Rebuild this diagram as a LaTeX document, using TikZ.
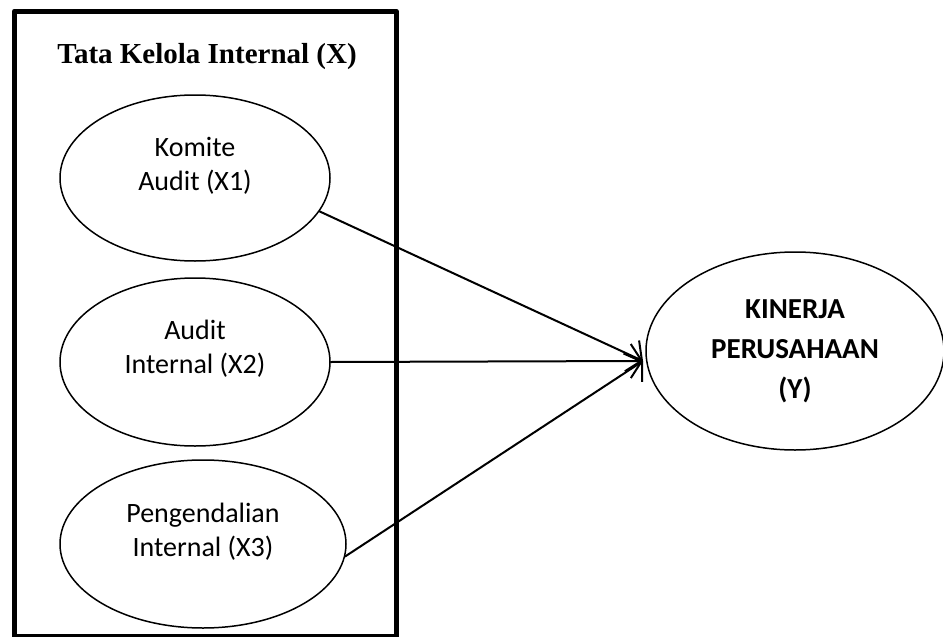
\documentclass[tikz,border=0pt]{standalone}
\usepackage{fontspec}
\setmainfont{Carlito}
\newfontfamily\judulfont{Liberation Serif}
\usetikzlibrary{shapes.geometric,arrows.meta}

\tikzset{
  oval/.style={ellipse, draw, line width=1.5pt, align=center, inner sep=0pt,
    font=\fontsize{28}{34}\selectfont},
  panah/.style={line width=2pt, -{Straight Barb[length=11pt, width=34pt, line width=2pt]}}
}

\begin{document}
\begin{tikzpicture}[x=1pt, y=-1pt, line join=round, line cap=round]
			\useasboundingbox (0,0) rectangle (943,637);
			% Kotak variabel X
			\node[draw, line width=5pt, line cap=butt, minimum width=381.5pt, minimum height=625.5pt,
			  inner sep=0pt, anchor=north west] (kotakX) at (12,8.5) {};
			\node[font=\judulfont\bfseries\fontsize{29}{35}\selectfont, anchor=base] (judul) at (207,63) {Tata Kelola Internal (X)};
			
			% Indikator X1, X2, X3
			\node[oval, minimum width=270pt, minimum height=166pt] (komite) at (195,178) {Komite\\Audit (X1)\\[-16pt]\strut};
			\node[oval, minimum width=270pt, minimum height=168pt] (audit) at (195,362) {Audit\\Internal (X2)\\[-14pt]\strut};
			\node[oval, minimum width=286pt, minimum height=168pt] (kendali) at (203,544) {Pengendalian\\Internal (X3)\\[-16pt]\strut};
			
			% Variabel Y
			\node[oval, minimum width=298pt, minimum height=198pt, font=\bfseries\fontsize{29}{40}\selectfont] (kinerja) at (795,351) {KINERJA\\PERUSAHAAN\\(Y)};
			\coordinate (ujung) at (643,361);
			
			% Panah pengaruh
			\draw[panah] (komite.-15) -- (ujung);
			\draw[panah] (audit.east) -- (ujung);
			\draw[panah] (kendali.-5) -- (ujung);
\end{tikzpicture}
\end{document}
